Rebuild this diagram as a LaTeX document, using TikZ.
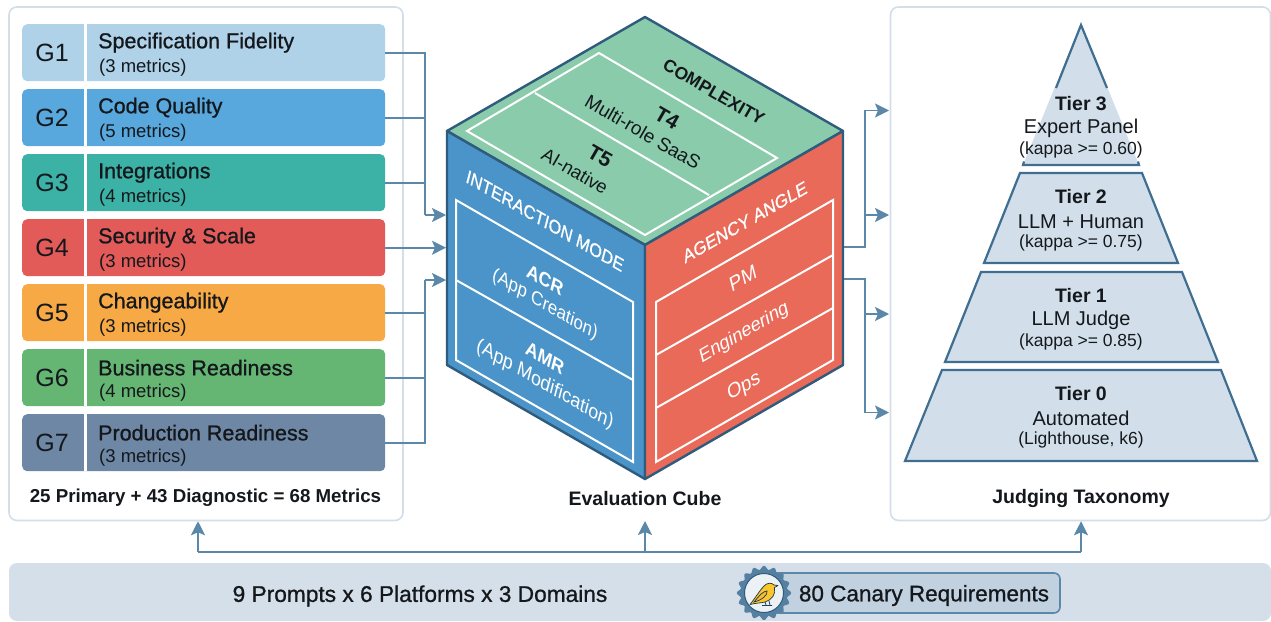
\documentclass[tikz,border=0pt]{standalone}
\usepackage{fontspec}
\setmainfont{Liberation Sans}
\newfontfamily\medf[FakeBold=0.9]{Liberation Sans}
\usetikzlibrary{arrows.meta,calc}
\definecolor{linec}{HTML}{5B87A9}
\definecolor{panelc}{HTML}{D3DEE8}
\definecolor{bandc}{HTML}{D4DFE9}
\definecolor{edgec}{HTML}{2F5B7C}
\definecolor{gA}{HTML}{AFD2E8}
\definecolor{gB}{HTML}{58A8DE}
\definecolor{gC}{HTML}{3CB1A5}
\definecolor{gD}{HTML}{E25B58}
\definecolor{gE}{HTML}{F6A945}
\definecolor{gF}{HTML}{66B673}
\definecolor{gG}{HTML}{6E87A4}
\definecolor{topf}{HTML}{8ACBAB}
\definecolor{leftf}{HTML}{4A94C9}
\definecolor{rightf}{HTML}{E96A58}
\definecolor{tierf}{HTML}{D2DFEA}
\definecolor{tiere}{HTML}{3F6E91}
\definecolor{txt}{HTML}{14181C}
\newcommand{\fsz}[1]{\fontsize{#1}{#1}\selectfont}
\tikzset{
  conn/.style={draw=linec,line width=1.8pt},
  arr/.style={conn,-{Stealth[length=14pt,width=14pt,inset=3pt]}},
  panel/.style={draw=panelc,line width=1.6pt,fill=white,rounded corners=8pt,inner sep=0pt},
  rowbox/.style={rounded corners=5pt,minimum width=363pt,minimum height=57pt,inner sep=0pt,anchor=north west},
  gtxt/.style={text=txt,font=\fsz{25},inner sep=0pt},
  rtitle/.style={text=txt,font=\medf\fsz{21.5},anchor=west,inner sep=0pt},
  rsub/.style={text=txt,font=\fsz{18.5},anchor=west,inner sep=0pt},
  face/.style={draw=edgec,line width=2.4pt,line join=round},
  inset/.style={draw=white,line width=2pt,line join=miter},
  capt/.style={text=txt,font=\bfseries\fsz{19.5},inner sep=0pt},
  toplbl/.style={inner sep=0pt,text=txt,rotate=-30},
  leftlbl/.style={inner sep=0pt,text=white,cm={0.866,-0.5,0.25,0.97,(0,0)}},
  rightlbl/.style={inner sep=0pt,text=white,cm={0.866,0.5,-0.25,0.97,(0,0)}},
  tier/.style={fill=tierf,draw=tiere,line width=2.2pt,line join=miter},
  tb/.style={text=txt,font=\bfseries\fsz{19.5},inner sep=0pt},
  tm/.style={text=txt,font=\fsz{20},inner sep=0pt},
  ts/.style={text=txt,font=\fsz{17.5},inner sep=0pt}
}
\newcommand{\grow}[5]{%
  \node[rowbox,fill=#3] (g#1) at (22,#2) {};
  \draw[white,line width=3.4pt] ($(g#1.north west)+(63.5,0)$) -- ($(g#1.south west)+(63.5,0)$);
  \node[gtxt] (gl#1) at (52,#2+28.5) {G#1};
  \node[rtitle] (gt#1) at (98,#2+18.7) {#4};
  \node[rsub] (gs#1) at (99,#2+43.5) {#5};
}
\begin{document}
\begin{tikzpicture}[x=1pt,y=-1pt]
\useasboundingbox (0,0) rectangle (1271,621);
\fill[white] (0,0) rectangle (1271,621);

% panels
\node[panel,minimum width=394pt,minimum height=513.5pt] (leftpanel) at (206,263.7) {};
\node[panel,minimum width=380pt,minimum height=513.5pt] (rightpanel) at (1080.5,263.7) {};
\node[fill=bandc,rounded corners=8pt,minimum width=1262pt,minimum height=58pt,inner sep=0pt] (band) at (640,592) {};

% guideline rows
\grow{1}{24}{gA}{Specification Fidelity}{(3 metrics)}
\grow{2}{89}{gB}{Code Quality}{(5 metrics)}
\grow{3}{154}{gC}{Integrations}{(4 metrics)}
\grow{4}{219}{gD}{Security \& Scale}{(3 metrics)}
\grow{5}{284}{gE}{Changeability}{(3 metrics)}
\grow{6}{349}{gF}{Business Readiness}{(4 metrics)}
\grow{7}{414}{gG}{Production Readiness}{(3 metrics)}
\node[capt,font=\bfseries\fsz{18.7}] (leftcap) at (205.5,498) {25 Primary + 43 Diagnostic = 68 Metrics};

% cube
\coordinate (ct) at (645,17);
\coordinate (cl) at (447,131);
\coordinate (cr) at (843,131);
\coordinate (cc) at (645,245);
\coordinate (cb) at (645,479);
\coordinate (cll) at (447,365);
\coordinate (crl) at (843,365);
\draw[face,fill=topf] (ct) -- (cr) -- (cc) -- (cl) -- cycle;
\draw[face,fill=leftf] (cl) -- (cc) -- (cb) -- (cll) -- cycle;
\draw[face,fill=rightf] (cr) -- (cc) -- (cb) -- (crl) -- cycle;
\draw[inset] (599,53) -- (777,158) -- (645,235) -- (467,131) -- cycle;
\draw[inset] (535,93) -- (709,195);
\draw[inset] (456,200) -- (633,302) -- (633,462) -- (456,360) -- cycle;
\draw[inset] (456,280) -- (633,380);
\draw[inset] (656,302) -- (833,200) -- (833,360) -- (656,462) -- cycle;
\draw[inset] (656,355) -- (833,255);
\draw[inset] (656,408) -- (833,308);

\node[toplbl,font=\bfseries\fsz{17.5}] (lc) at (714,92) {COMPLEXITY};
\node[toplbl,font=\bfseries\fsz{21}] (lt4) at (667,118) {T4};
\node[toplbl,font=\fsz{19}] (lt4b) at (643,132) {Multi-role SaaS};
\node[toplbl,font=\bfseries\fsz{21}] (lt5) at (600,156) {T5};
\node[toplbl,font=\fsz{18.5}] (lt5b) at (575,171) {AI-native};

\node[leftlbl,font=\medf\fsz{18}] (lm) at (545,221) {INTERACTION MODE};
\node[leftlbl,font=\bfseries\fsz{19}] (la) at (545,280) {ACR};
\node[leftlbl,font=\fsz{18.5}] (lab) at (545,305) {(App Creation)};
\node[leftlbl,font=\bfseries\fsz{19}] (lb) at (545,358) {AMR};
\node[leftlbl,font=\fsz{19.5}] (lbb) at (545,385) {(App Modification)};

\node[rightlbl,font=\medf\fsz{18}] (ln) at (745,222) {AGENCY ANGLE};
\node[rightlbl,font=\fsz{20}] (lp) at (743,278) {PM};
\node[rightlbl,font=\fsz{19}] (le) at (744,333) {Engineering};
\node[rightlbl,font=\fsz{20}] (lo) at (744,387) {Ops};
\node[capt] (midcap) at (645,498.5) {Evaluation Cube};

% connectors left
\coordinate (jl) at (425,215);
\coordinate (jr) at (425,280);
\coordinate (inA) at (446,215);
\coordinate (inB) at (446,247.5);
\coordinate (inC) at (446,280);
\draw[conn] (g1.east) -| (jl);
\draw[conn] (g2.east) -| (jl);
\draw[conn] (g3.east) -| (jl);
\draw[arr] (jl) -- (inA);
\draw[arr] (g4.east) -- (g4.east -| inB);
\draw[conn] (g5.east) -| (jr);
\draw[conn] (g6.east) -| (jr);
\draw[conn] (g7.east) -| (jr);
\draw[arr] (jr) -- (inC);

% connectors right
\coordinate (outA) at (844,247);
\coordinate (outB) at (844,279);
\coordinate (t3in) at (889,110.5);
\coordinate (t2in) at (889,215);
\coordinate (t1in) at (889,314);
\coordinate (t0in) at (889,412.5);
\draw[arr] (outA) -- (865,247) |- (t3in);
\draw[arr] (865,247) |- (t2in);
\draw[arr] (outB) -- (865,279) |- (t1in);
\draw[arr] (865,279) |- (t0in);

% pyramid
\fill[tierf] (1081,23) -- (1139,165) -- (1023,165) -- cycle;
\draw[tiere,line width=2.2pt] (1056,88) -- (1081,25) -- (1107,88);
\draw[tiere,line width=2.2pt] (1024,161.5) -- (1023,165) -- (1139,165) -- (1138,161.5);
\node[tb] (t3a) at (1081,104) {Tier 3};
\node[tm] (t3b) at (1081,128) {Expert Panel};
\node[ts] (t3c) at (1081,150) {(kappa >= 0.60)};
\draw[tier] (1020,173) -- (1142,173) -- (1178,263) -- (984,263) -- cycle;
\node[tb] (t2a) at (1081,197) {Tier 2};
\node[tm] (t2b) at (1081,221.5) {LLM + Human};
\node[ts] (t2c) at (1081,243) {(kappa >= 0.75)};
\draw[tier] (981,272) -- (1182,272) -- (1218,362) -- (945,362) -- cycle;
\node[tb] (t1a) at (1081,296) {Tier 1};
\node[tm] (t1b) at (1081,320.5) {LLM Judge};
\node[ts] (t1c) at (1081,342) {(kappa >= 0.85)};
\draw[tier] (942,370) -- (1221,370) -- (1257,461) -- (905,461) -- cycle;
\node[tb] (t0a) at (1081,394) {Tier 0};
\node[tm] (t0b) at (1081,418) {Automated};
\node[ts] (t0c) at (1081,440) {(Lighthouse, k6)};
\node[capt] (rightcap) at (1081,498.5) {Judging Taxonomy};

% bus
\coordinate (bus1) at (198,552);
\coordinate (bus2) at (645,552);
\coordinate (bus3) at (1081,552);
\draw[conn] (bus1) -- (bus3);
\draw[arr] (bus1) -- (bus1 |- leftpanel.south);
\draw[arr] (bus2) -- (645,521);
\draw[arr] (bus3) -- (bus3 |- rightpanel.south);

% band content
\node[capt,font=\medf\fsz{22.7}] (bandtxt) at (420,596) {9 Prompts x 6 Platforms x 3 Domains};
\node[draw=linec,line width=1.6pt,fill=panelc!85!linec,rounded corners=6pt,minimum width=296pt,minimum height=40pt,inner sep=0pt] (pill) at (912,593) {};
\node[capt,font=\medf\fsz{22.5}] (pilltxt) at (924,595.5) {80 Canary Requirements};
\fill[linec!95!black] plot[domain=0:360,samples=193,smooth] ({764+(25.3+1.8*cos(16*\x))*cos(\x)},{593+(25.3+1.8*cos(16*\x))*sin(\x)}) -- cycle;
\draw[draw=edgec,line width=1pt,fill=white!88!linec] (764,593) circle[radius=19.5];
% bird
\draw[fill=gE!65!yellow,draw=edgec!60!black,line width=.7pt,line join=round]
  (750,604.5) .. controls (756,597) and (760,590) .. (764,586)
  .. controls (767,582.5) and (772,582.5) .. (774,585)
  -- (778,585.5) -- (774.5,587.5)
  .. controls (776,594) and (772,600) .. (765,602)
  .. controls (761,603) and (756,603) .. (750,604.5) -- cycle;
\draw[draw=edgec!60!black,line width=.7pt,fill=gE!80!yellow] (754,602) .. controls (759,596) and (763,591) .. (767,591) .. controls (768,595) and (762,600) .. (754,602) -- cycle;
\draw[draw=edgec!70!black,line width=.8pt] (765,602) -- (766,605) (769,601) -- (770,605) (762,605.5) -- (772,605.5);
\end{tikzpicture}
\end{document}
